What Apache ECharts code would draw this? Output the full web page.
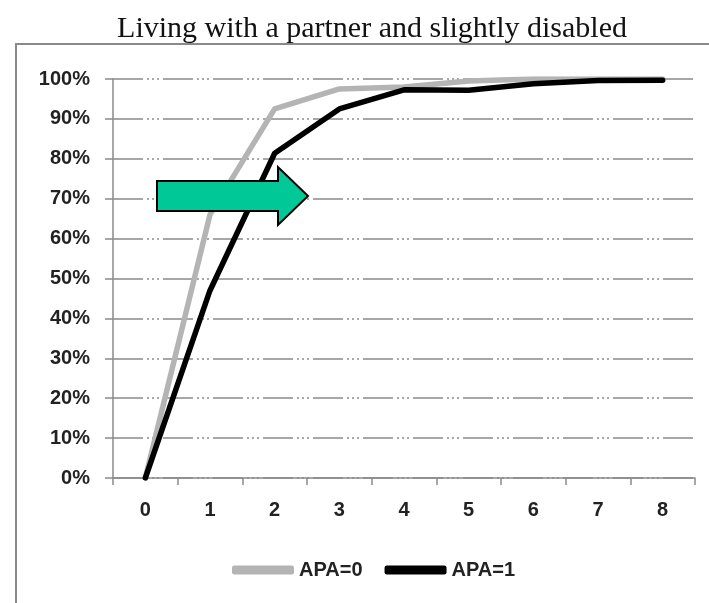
<!DOCTYPE html>
<html>
<head>
<meta charset="utf-8">
<script src="https://cdn.jsdelivr.net/npm/echarts@6/dist/echarts.min.js"></script>
<style>
  html, body { margin: 0; padding: 0; background: #fff; }
  #chart { width: 709px; height: 603px; }
</style>
</head>
<body>
<div id="chart"></div>
<script>
// values (cumulative share, %)
var categories = ["0", "1", "2", "3", "4", "5", "6", "7", "8"];
var apa0 = [0, 66, 92.5, 97.5, 98, 99.5, 100, 100, 100];
var apa1 = [0, 47, 81.4, 92.5, 97.3, 97.2, 98.8, 99.6, 99.7];
var seriesNames = ["APA=0", "APA=1"];

var labelFont = { color: "#222", fontFamily: "Liberation Sans", fontWeight: "bold", fontSize: 20 };
var gridDash = [30, 4, 2, 3, 2, 3, 2, 4];

var chart = echarts.init(document.getElementById("chart"), null, { renderer: "canvas" });

var option = {
  animation: false,
  title: {
    text: "Living with a partner and slightly disabled",
    left: 367,
    textAlign: "center",
    top: 9,
    textStyle: { fontFamily: "Liberation Serif", fontWeight: "normal", fontSize: 30, color: "#111" }
  },
  grid: { left: 113, right: 14, top: 79, bottom: 125, containLabel: false },
  legend: {
    data: seriesNames,
    left: 227,
    top: 555,
    icon: "roundRect",
    itemWidth: 62,
    itemHeight: 9,
    itemGap: 22,
    textStyle: { color: "#222", fontFamily: "Liberation Sans", fontWeight: "bold", fontSize: 20 }
  },
  xAxis: {
    type: "category",
    data: categories,
    boundaryGap: true,
    axisLine: { lineStyle: { color: "#8a8a8a", width: 1.5 } },
    axisTick: { show: true, length: 7, lineStyle: { color: "#8a8a8a", width: 1.5 } },
    axisLabel: Object.assign({ margin: 22 }, labelFont),
    splitLine: { show: false }
  },
  yAxis: {
    type: "value",
    min: 0,
    max: 100,
    interval: 10,
    axisLine: { show: true, lineStyle: { color: "#8a8a8a", width: 1.5 } },
    axisTick: { show: true, length: 8, lineStyle: { color: "#8a8a8a", width: 1.5 } },
    axisLabel: Object.assign({ margin: 23, formatter: "{value}%" }, labelFont),
    splitLine: { show: true, lineStyle: { color: "#8a8a8a", width: 1.5, type: gridDash } }
  },
  series: [
    {
      name: seriesNames[0],
      type: "line",
      data: apa0,
      color: "#b4b4b4",
      showSymbol: false,
      symbol: "none",
      lineStyle: { width: 5.5, color: "#b4b4b4", cap: "round", join: "round" },
      z: 2
    },
    {
      name: seriesNames[1],
      type: "line",
      data: apa1,
      color: "#000",
      showSymbol: false,
      symbol: "none",
      lineStyle: { width: 5.5, color: "#000", cap: "round", join: "round" },
      z: 3
    }
  ],
  graphic: [
    {
      type: "rect",
      shape: { x: 16, y: 44, width: 720, height: 600 },
      style: { fill: "none", stroke: "#8a8a8a", lineWidth: 2 },
      z: -1
    },
    {
      type: "polygon",
      shape: {
        points: [[157, 181], [278, 181], [278, 167], [308, 196], [278, 225], [278, 211], [157, 211]]
      },
      style: { fill: "#00c896", stroke: "#000", lineWidth: 2 },
      z: 100
    }
  ]
};

chart.setOption(option);
</script>
</body>
</html>
